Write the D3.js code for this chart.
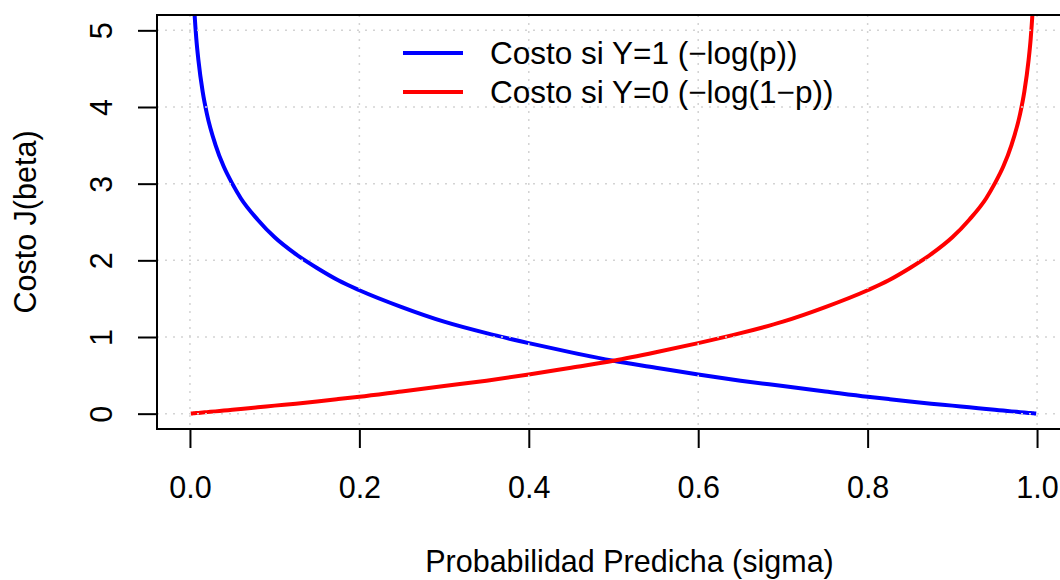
<!DOCTYPE html>
<html>
<head>
<meta charset="utf-8">
<script src="https://cdn.jsdelivr.net/npm/d3@7"></script>
<style>
  body { margin: 0; background: #fff; }
  text { font-family: "Liberation Sans", Arial, Helvetica, sans-serif; fill: #000; }
</style>
</head>
<body>
<div id="app"></div>
<script>
// predicted probability (x) and the two cost curves
const probs = [0.001, 0.002, 0.003, 0.005, 0.0075, 0.01, 0.015, 0.02, 0.03, 0.04, 0.05, 0.06,
  0.08, 0.10, 0.125, 0.15, 0.175, 0.20, 0.25, 0.30, 0.35, 0.40, 0.45, 0.50, 0.55, 0.60, 0.65,
  0.70, 0.75, 0.80, 0.825, 0.85, 0.875, 0.90, 0.92, 0.94, 0.95, 0.96, 0.97, 0.98, 0.985, 0.99,
  0.9925, 0.995, 0.997, 0.998, 0.999];
const costY1 = [6.91, 6.21, 5.81, 5.30, 4.89, 4.61, 4.20, 3.91, 3.51, 3.22, 3.00, 2.81,
  2.53, 2.30, 2.08, 1.90, 1.74, 1.61, 1.39, 1.20, 1.05, 0.92, 0.80, 0.69, 0.60, 0.51, 0.43,
  0.36, 0.29, 0.22, 0.19, 0.16, 0.13, 0.105, 0.083, 0.062, 0.051, 0.041, 0.030, 0.020, 0.015, 0.010,
  0.0075, 0.005, 0.003, 0.002, 0.001];
const costY0 = [0.001, 0.002, 0.003, 0.005, 0.0075, 0.010, 0.015, 0.020, 0.030, 0.041, 0.051, 0.062,
  0.083, 0.105, 0.13, 0.16, 0.19, 0.22, 0.29, 0.36, 0.43, 0.51, 0.60, 0.69, 0.80, 0.92, 1.05,
  1.20, 1.39, 1.61, 1.74, 1.90, 2.08, 2.30, 2.53, 2.81, 3.00, 3.22, 3.51, 3.91, 4.20, 4.61,
  4.89, 5.30, 5.81, 6.21, 6.91];
const xTicks = [0, 0.2, 0.4, 0.6, 0.8, 1.0];
const yTicks = [0, 1, 2, 3, 4, 5];
const legendLabels = ['Costo si Y=1 (\u2212log(p))', 'Costo si Y=0 (\u2212log(1\u2212p))'];
const seriesColors = ['#0000ff', '#ff0000'];

const W = 1060, H = 580;
const plotL = 157, plotR = 1070, plotT = 15, plotB = 429;
const fs = 30.5;

const svg = d3.select('#app').append('svg')
  .attr('width', W).attr('height', H);

const x = d3.scaleLinear().domain([-0.0389, 1.0389]).range([plotL, plotR]);
const y = d3.scaleLinear().domain([-0.2, 5.2]).range([plotB, plotT]);

svg.append('defs').append('clipPath').attr('id', 'plotclip')
  .append('rect').attr('x', plotL).attr('y', plotT)
  .attr('width', plotR - plotL).attr('height', plotB - plotT);

// curves
const line = d3.line()
  .x(d => x(d[0]))
  .y(d => y(d[1]))
  .curve(d3.curveMonotoneX);

const curves = svg.append('g').attr('clip-path', 'url(#plotclip)');
[costY1, costY0].forEach((vals, i) => {
  curves.append('path')
    .datum(probs.map((p, j) => [p, vals[j]]))
    .attr('d', line)
    .attr('fill', 'none')
    .attr('stroke', seriesColors[i])
    .attr('stroke-width', 4)
    .attr('stroke-linejoin', 'round');
});

// grid on top, like R's grid()
const grid = svg.append('g').attr('clip-path', 'url(#plotclip)')
  .attr('stroke', '#d3d3d3').attr('stroke-width', 1.5).attr('stroke-dasharray', '2,6');
grid.selectAll('.gx').data(xTicks).enter().append('line')
  .attr('x1', d => x(d)).attr('x2', d => x(d))
  .attr('y1', plotT).attr('y2', plotB);
grid.selectAll('.gy').data(yTicks).enter().append('line')
  .attr('x1', plotL).attr('x2', plotR)
  .attr('y1', d => y(d)).attr('y2', d => y(d));

// box
svg.append('rect')
  .attr('x', plotL).attr('y', plotT)
  .attr('width', plotR - plotL).attr('height', plotB - plotT)
  .attr('fill', 'none').attr('stroke', '#000').attr('stroke-width', 2);

// axes
const xAxis = svg.append('g')
  .attr('transform', `translate(0,${plotB})`)
  .call(d3.axisBottom(x).tickValues(xTicks).tickFormat(d3.format('.1f')).tickSize(19));
xAxis.select('.domain').remove();
xAxis.selectAll('line').attr('stroke-width', 2);
xAxis.selectAll('text')
  .attr('y', 69).attr('dy', 0)
  .style('font-size', fs + 'px')
  .style('font-family', '"Liberation Sans", Arial, sans-serif');

const yAxis = svg.append('g')
  .attr('transform', `translate(${plotL + 1},0)`)
  .call(d3.axisLeft(y).tickValues(yTicks).tickFormat(d3.format('d')).tickSize(20));
yAxis.select('.domain').remove();
yAxis.selectAll('line').attr('stroke-width', 2);
yAxis.selectAll('text')
  .attr('x', 0).attr('dy', 0)
  .attr('text-anchor', 'middle')
  .attr('transform', 'translate(-46,0) rotate(-90)')
  .style('font-size', fs + 'px')
  .style('font-family', '"Liberation Sans", Arial, sans-serif');

// titles
svg.append('text')
  .attr('x', (plotL + plotR) / 2 + 16).attr('y', 572)
  .attr('text-anchor', 'middle')
  .style('font-size', fs + 'px')
  .text('Probabilidad Predicha (sigma)');

svg.append('text')
  .attr('transform', `translate(36,${(plotT + plotB) / 2}) rotate(-90)`)
  .attr('text-anchor', 'middle')
  .style('font-size', fs + 'px')
  .text('Costo J(beta)');

// legend, no box
const legend = svg.append('g');
legendLabels.forEach((lab, i) => {
  const ly = 53 + i * 39;
  legend.append('line')
    .attr('x1', 403).attr('x2', 463)
    .attr('y1', ly).attr('y2', ly)
    .attr('stroke', seriesColors[i]).attr('stroke-width', 3.8);
  legend.append('text')
    .attr('x', 490).attr('y', ly).attr('dy', '0.36em')
    .style('font-size', '31.5px')
    .text(lab);
});
</script>
</body>
</html>
